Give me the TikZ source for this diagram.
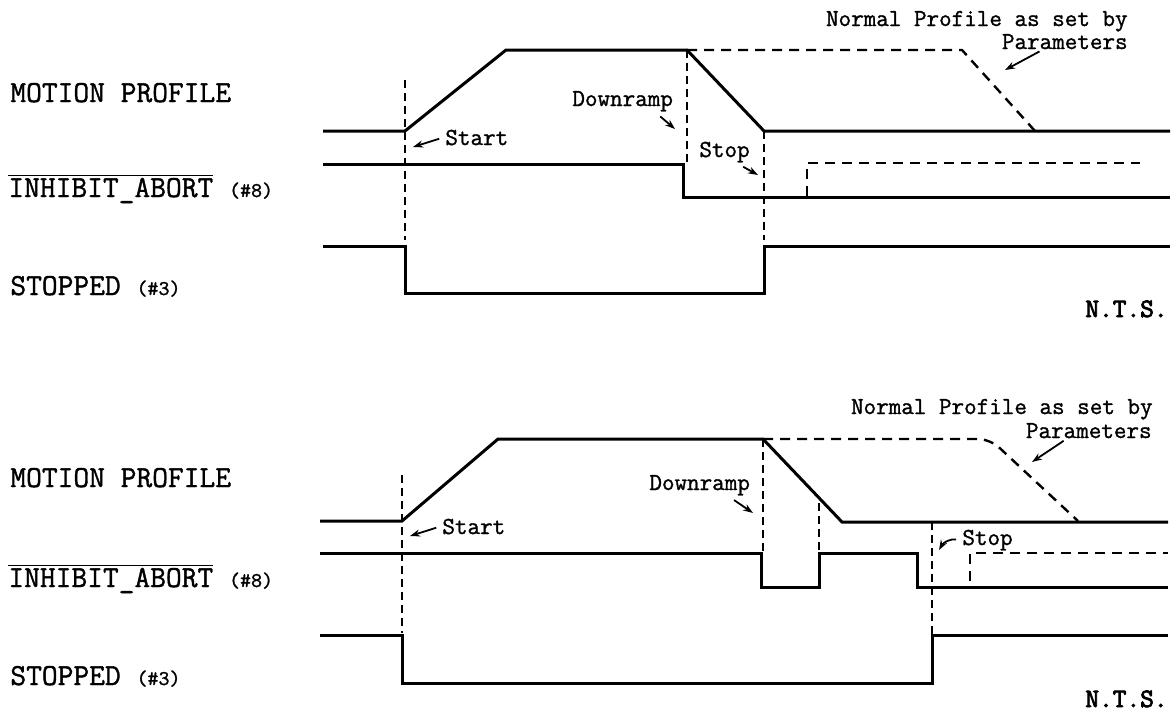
\documentclass[tikz,border=0pt]{standalone}
\usepackage{fontspec}
\newfontfamily\courier{Latin Modern Mono}[FakeBold=1.2]
\newfontfamily\courierheavy{Latin Modern Mono}[FakeBold=3]
\usetikzlibrary{arrows.meta}
\newcommand\pinfont{\courier\fontsize{10.5}{12}\selectfont}
\begin{document}
\begin{tikzpicture}[x=0.5pt, y=-0.5pt,
  lane/.style={font=\courier\fontsize{15.3}{18}\selectfont, anchor=base west, inner sep=1pt},
  note/.style={font=\courier\fontsize{12.2}{14}\selectfont, anchor=base west, inner sep=1pt},
  noteR/.style={note, anchor=base east, inner sep=0pt},
  nts/.style={font=\courierheavy\fontsize{13.3}{15}\selectfont, anchor=base west, inner sep=1pt},
  sig/.style={line width=1.5pt},
  guide/.style={line width=0.9pt, dash pattern=on 4pt off 2.5pt},
  ghost/.style={line width=1.2pt, dash pattern=on 5pt off 3.5pt},
  pointer/.style={-{Stealth[length=5pt, width=3.5pt]}, line width=0.9pt, shorten <=2pt}]
\useasboundingbox (0,0) rectangle (1171,714);
\foreach \n/\ya/\yb/\yc in {1/102/197/295, 2/487/587/685} {
  \node[lane] (mp\n) at (8,\ya) {MOTION PROFILE};
  \node[lane] (ia\n) at (6,\yb) {$\overline{\mbox{INHIBIT\_ABORT}}$ {\pinfont(\#8)}};
  \node[lane] (st\n) at (8,\yc) {STOPPED {\pinfont(\#3)}}; }
% upper chart
\draw[sig] (323,131) -- (405,131) -- (506,50) -- (687,50) -- (764,131) -- (1170,131);
\draw[ghost] (687,50) -- (962,50) -- (1035,131);
\draw[sig] (323,164) -- (683,164) -- (683,197) -- (1170,197);
\draw[ghost] (807,196) -- (807,163) -- (1140,163);
\draw[sig] (323,246) -- (405,246) -- (405,293) -- (764,293) -- (764,246) -- (1170,246);
\draw[guide] (405,80) -- (405,240);
\draw[guide] (687,50) -- (687,162);
\draw[guide] (764,131) -- (764,240);
\node[note] (start1) at (443,145) {Start};
\node[note] (down1) at (570,106) {Downramp};
\node[note] (stop1) at (697,157) {Stop};
\node[noteR] (normal1) at (1128,26) {Normal Profile as set by};
\node[noteR] (param1) at (1128,49) {Parameters};
\node[nts] (nts1) at (1083,317) {N.T.S.};
\coordinate (startTip1) at (413,147);
\coordinate (downTip1) at (675,129);
\coordinate (stopTip1) at (758,175);
\coordinate (paramTip1) at (1005,70);
\draw[pointer] (start1.west) -- (startTip1);
\draw[pointer] (down1.-20) -- (downTip1);
\draw[pointer] (stop1.-40) -- (stopTip1);
\draw[pointer] (param1.200) -- (paramTip1);
% lower chart
\draw[sig] (320,521) -- (402,521) -- (498,439) -- (763,439) -- (842,522) -- (1168,522);
\draw[ghost, rounded corners=6] (763,439) -- (990,439) -- (1078,521);
\draw[sig] (320,553) -- (761,553) -- (761,587) -- (819,587) -- (819,553) -- (917,553) -- (917,587) -- (1168,587);
\draw[ghost] (970,581) -- (970,553) -- (1168,553);
\draw[sig] (320,635) -- (402,635) -- (402,683) -- (932,683) -- (932,635) -- (1168,635);
\draw[guide] (402,475) -- (402,633);
\draw[guide] (763,439) -- (763,553);
\draw[guide] (819,503) -- (819,553);
\draw[guide] (932,522) -- (932,635);
\node[note] (start2) at (440,534) {Start};
\node[note] (down2) at (647,490) {Downramp};
\node[note] (stop2) at (960,545) {Stop};
\node[noteR] (normal2) at (1153,414) {Normal Profile as set by};
\node[noteR] (param2) at (1152,438) {Parameters};
\node[nts] (nts2) at (1083,707) {N.T.S.};
\coordinate (startTip2) at (410,536);
\coordinate (downTip2) at (753,513);
\coordinate (stopTip2) at (939,550);
\coordinate (paramTip2) at (1032,462);
\draw[pointer] (start2.west) -- (startTip2);
\draw[pointer] (down2.-22) -- (downTip2);
\draw[pointer] (stop2.west) to[bend right=35] (stopTip2);
\draw[pointer] (param2.200) -- (paramTip2);
\end{tikzpicture}
\end{document}
